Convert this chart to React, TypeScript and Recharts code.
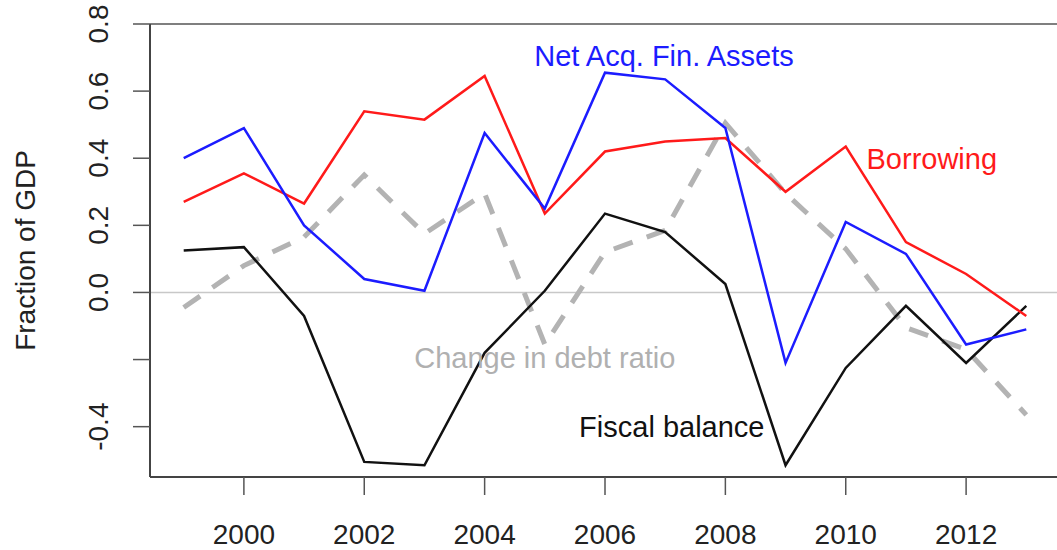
import { LineChart, Line, XAxis, YAxis, ReferenceLine, ReferenceDot } from "recharts";

const YEARS = [1999, 2000, 2001, 2002, 2003, 2004, 2005, 2006, 2007, 2008, 2009, 2010, 2011, 2012, 2013];

const NET_ACQ = [0.4, 0.49, 0.2, 0.04, 0.005, 0.475, 0.25, 0.655, 0.635, 0.49, -0.21, 0.21, 0.115, -0.155, -0.11];
const BORROWING = [0.27, 0.355, 0.265, 0.54, 0.515, 0.645, 0.235, 0.42, 0.45, 0.46, 0.3, 0.435, 0.15, 0.055, -0.07];
const FISCAL = [0.125, 0.135, -0.07, -0.505, -0.515, -0.18, 0.005, 0.235, 0.18, 0.025, -0.515, -0.225, -0.04, -0.21, -0.04];
const DEBT_CHANGE = [-0.045, 0.08, 0.165, 0.35, 0.175, 0.295, -0.155, 0.12, 0.185, 0.505, 0.295, 0.13, -0.105, -0.17, -0.365];

const X_TICKS = [2000, 2002, 2004, 2006, 2008, 2010, 2012];
const Y_TICKS = [-0.4, -0.2, 0, 0.2, 0.4, 0.6, 0.8];
const Y_HIDDEN = [-0.2]; // R dropped this label

// text annotations (data coords of label centre)
const LABELS = [
  { text: "Net Acq. Fin. Assets", x: 2006.98, y: 0.705, color: "#1c1cff" },
  { text: "Borrowing", x: 2011.43, y: 0.4, color: "#ff1a1a" },
  { text: "Change in debt ratio", x: 2005.0, y: -0.195, color: "#b0b0b0" },
  { text: "Fiscal balance", x: 2007.11, y: -0.4, color: "#111111" },
];

const data = YEARS.map((year, i) => ({
  year,
  netAcq: NET_ACQ[i],
  borrowing: BORROWING[i],
  fiscal: FISCAL[i],
  debtChange: DEBT_CHANGE[i],
}));

const FONT = '"Liberation Sans", Arial, Helvetica, sans-serif';

const XTick = (props: any) => {
  const { x, payload } = props;
  return (
    <text x={x} y={544} textAnchor="middle" fontSize={28} fontFamily={FONT} fill="#222">
      {payload.value}
    </text>
  );
};

const YTick = (props: any) => {
  const { y, payload } = props;
  if (Y_HIDDEN.includes(payload.value)) return null;
  return (
    <text
      x={108}
      y={y}
      transform={`rotate(-90, 108, ${y})`}
      textAnchor="middle"
      fontSize={28}
      fontFamily={FONT}
      fill="#222"
    >
      {payload.value.toFixed(1)}
    </text>
  );
};

const App = () => {
  return (
    <div style={{ position: "fixed", left: 0, top: 0, width: 1057, height: 550, overflow: "hidden", background: "#fff" }}>
      <LineChart width={1066} height={550} data={data} margin={{ top: 24, right: 6, bottom: 0, left: 0 }}>
        <XAxis
          dataKey="year"
          type="number"
          domain={[1998.44, 2013.56]}
          ticks={X_TICKS}
          height={73}
          tickSize={18}
          tick={<XTick />}
          axisLine={{ stroke: "#444", strokeWidth: 2 }}
          tickLine={{ stroke: "#555", strokeWidth: 1.5 }}
          allowDataOverflow
        />
        <YAxis
          type="number"
          domain={[-0.55, 0.8]}
          ticks={Y_TICKS}
          width={150}
          tickSize={17}
          tick={<YTick />}
          axisLine={{ stroke: "#444", strokeWidth: 2 }}
          tickLine={{ stroke: "#555", strokeWidth: 1.5 }}
          allowDataOverflow
          label={{
            content: (p: any) => {
              const vb = p.viewBox;
              const cy = vb.y + vb.height / 2;
              return (
                <text
                  x={35}
                  y={cy}
                  transform={`rotate(-90, 35, ${cy})`}
                  textAnchor="middle"
                  fontSize={28}
                  fontFamily={FONT}
                  fill="#222"
                >
                  Fraction of GDP
                </text>
              );
            },
          }}
        />
        <ReferenceLine y={0.8} stroke="#555" strokeWidth={1.5} />
        <ReferenceLine y={0} stroke="#c8c8c8" strokeWidth={1.5} />
        <Line
          dataKey="debtChange"
          stroke="#b3b3b3"
          strokeWidth={5}
          strokeDasharray="20 15"
          dot={false}
          isAnimationActive={false}
        />
        <Line dataKey="fiscal" stroke="#111" strokeWidth={2.5} dot={false} isAnimationActive={false} />
        <Line dataKey="borrowing" stroke="#ff1a1a" strokeWidth={2.5} dot={false} isAnimationActive={false} />
        <Line dataKey="netAcq" stroke="#1c1cff" strokeWidth={2.5} dot={false} isAnimationActive={false} />
        {LABELS.map((l) => (
          <ReferenceDot
            key={l.text}
            x={l.x}
            y={l.y}
            r={0}
            stroke="none"
            fill="none"
            label={{ value: l.text, position: "center", fill: l.color, fontSize: 29, fontFamily: FONT }}
          />
        ))}
      </LineChart>
    </div>
  );
};

export default App;
